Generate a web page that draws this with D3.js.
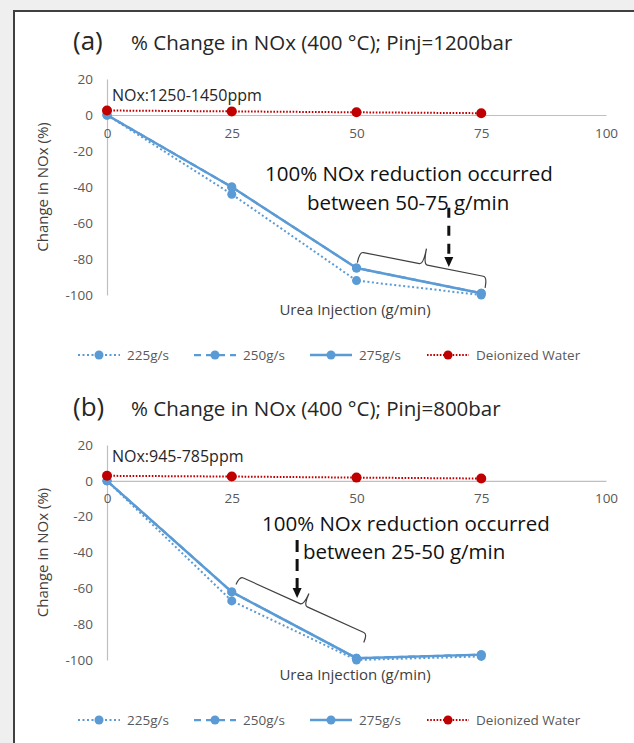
<!DOCTYPE html>
<html>
<head>
<meta charset="utf-8">
<script src="https://cdn.jsdelivr.net/npm/d3@7"></script>
<style>
  html, body { margin: 0; padding: 0; background: #efefef; }
  svg { display: block; font-family: "Open Sans", sans-serif; }
</style>
</head>
<body>
<svg id="chart" width="634" height="743"></svg>
<script>
// urea injection (g/min) and the ticks
const xValues = [0, 25, 50, 75];
const xTicks = [0, 25, 50, 75, 100];
const yTicks = [20, 0, -20, -40, -60, -80, -100];
const seriesNames = ["225g/s", "250g/s", "275g/s", "Deionized Water"];

// panel (a) Pinj=1200bar
const a225 = [0, -44, -92, -100];
const a250 = [0, -40, -85, -99];
const a275 = [0, -40, -85, -99];
const aWater = [2.5, 2, 1.5, 1];

// panel (b) Pinj=800bar
const b225 = [0, -67, -100, -98];
const b250 = [0, -62, -99, -97];
const b275 = [0, -62, -99, -97];
const bWater = [2.8, 2.4, 1.8, 1.3];

const blue = "#5b9bd5", red = "#c00000";
const styles = [
  {color: blue, width: 2, dash: "2,2.5"},
  {color: blue, width: 2.25, dash: "7,5"},
  {color: blue, width: 2.5, dash: null},
  {color: red, width: 2, dash: "1.6,1.6"}
];

const panels = [
  {
    label: "(a)", title: "% Change in NOx (400 °C); Pinj=1200bar", note: "NOx:1250-1450ppm",
    series: [a225, a250, a275, aWater],
    top: 79, bottom: 295, titleY: 50, noteY: 101, legendY: 355,
    text1: [265, 180.5, "100% NOx reduction occurred"],
    text2: [307, 209.5, "between 50-75 g/min"],
    brace: {p0: [50.6, -76], p1: [76.2, -90], h: 11, t: 16},
    arrow: {x: 68.5, y0: -51.5, y1: -84.4, dash: "10,8"}
  },
  {
    label: "(b)", title: "% Change in NOx (400 °C); Pinj=800bar", note: "NOx:945-785ppm",
    series: [b225, b250, b275, bWater],
    top: 445, bottom: 660, titleY: 416, noteY: 462, legendY: 720,
    text1: [262, 531, "100% NOx reduction occurred"],
    text2: [303, 559, "between 25-50 g/min"],
    brace: {p0: [26.6, -53.3], p1: [52.2, -85.6], h: 9, t: 13},
    arrow: {x: 38.1, y0: -33, y1: -65.4, dash: "12,7"}
  }
];

const svg = d3.select("#chart");

// card with dark border
svg.append("rect").attr("x", 14).attr("y", 11).attr("width", 700).attr("height", 800)
  .attr("fill", "#fff").attr("stroke", "#404040").attr("stroke-width", 2);

const x = d3.scaleLinear().domain([0, 100]).range([107, 606]);

panels.forEach(p => {
  const y = d3.scaleLinear().domain([-100, 20]).range([p.bottom, p.top]);
  const g = svg.append("g");

  g.append("text").attr("x", 73).attr("y", p.titleY).attr("font-size", 26).attr("fill", "#262626").text(p.label);
  g.append("text").attr("x", 131).attr("y", p.titleY).attr("font-size", 20.5).attr("fill", "#262626").text(p.title);

  // y axis (plain hyphen for negatives, like the original)
  const yAxis = g.append("g").attr("transform", `translate(${x(0)},0)`)
    .call(d3.axisLeft(y).tickValues(yTicks).tickSize(0).tickPadding(14).tickFormat(d => String(d)));
  yAxis.select(".domain").attr("stroke", "#bfbfbf").attr("stroke-width", 1.2);
  yAxis.selectAll("text").attr("font-size", 13.5).attr("fill", "#595959").attr("font-family", "Open Sans");

  // horizontal zero line with labels under it
  const xAxis = g.append("g").attr("transform", `translate(0,${y(0)})`)
    .call(d3.axisBottom(x).tickValues(xTicks).tickSize(0).tickPadding(13).tickFormat(d => String(d)));
  xAxis.select(".domain").attr("stroke", "#bfbfbf").attr("stroke-width", 1.2);
  xAxis.selectAll("text").attr("font-size", 13.5).attr("fill", "#595959").attr("font-family", "Open Sans");

  g.append("text").attr("transform", `translate(48,${(p.top + p.bottom) / 2}) rotate(-90)`)
    .attr("text-anchor", "middle").attr("font-size", 15).attr("fill", "#404040").text("Change in NOx (%)");
  g.append("text").attr("x", 355).attr("y", p.bottom + 20).attr("text-anchor", "middle")
    .attr("font-size", 15).attr("fill", "#404040").text("Urea Injection (g/min)");

  g.append("text").attr("x", 112).attr("y", p.noteY).attr("font-size", 16).attr("fill", "#262626").text(p.note);

  // series
  const line = d3.line().x((d, i) => x(xValues[i])).y(d => y(d));
  p.series.forEach((vals, k) => {
    const s = styles[k];
    g.append("path").datum(vals).attr("d", line).attr("fill", "none")
      .attr("stroke", s.color).attr("stroke-width", s.width).attr("stroke-dasharray", s.dash);
    g.selectAll(null).data(vals).enter().append("circle")
      .attr("cx", (d, i) => x(xValues[i])).attr("cy", d => y(d))
      .attr("r", k === 3 ? 5 : 4.5).attr("fill", s.color);
  });

  // annotation text
  [p.text1, p.text2].forEach(t => {
    g.append("text").attr("x", t[0]).attr("y", t[1]).attr("font-size", 20.5).attr("fill", "#111").text(t[2]);
  });

  // rotated curly brace
  const b0 = [x(p.brace.p0[0]), y(p.brace.p0[1])];
  const b1 = [x(p.brace.p1[0]), y(p.brace.p1[1])];
  const L = Math.hypot(b1[0] - b0[0], b1[1] - b0[1]);
  const ang = Math.atan2(b1[1] - b0[1], b1[0] - b0[0]) * 180 / Math.PI;
  const m = L / 2, h = p.brace.h, t = p.brace.t, r = 4;
  const bp = d3.path();
  bp.moveTo(0, h); bp.quadraticCurveTo(0, 0, r, 0); bp.lineTo(m - r, 0);
  bp.quadraticCurveTo(m, 0, m, -t); bp.quadraticCurveTo(m, 0, m + r, 0);
  bp.lineTo(L - r, 0); bp.quadraticCurveTo(L, 0, L, h);
  g.append("path").attr("d", bp.toString())
    .attr("transform", `translate(${b0[0]},${b0[1]}) rotate(${ang})`)
    .attr("fill", "none").attr("stroke", "#404040").attr("stroke-width", 1.2);

  // dashed arrow
  const ax = x(p.arrow.x), ay0 = y(p.arrow.y0), ay1 = y(p.arrow.y1);
  g.append("line").attr("x1", ax).attr("x2", ax).attr("y1", ay0).attr("y2", ay1 - 9)
    .attr("stroke", "#111").attr("stroke-width", 3).attr("stroke-dasharray", p.arrow.dash);
  g.append("path").attr("d", `M${ax - 4.5},${ay1 - 10} L${ax + 4.5},${ay1 - 10} L${ax},${ay1} Z`).attr("fill", "#111");

  // legend
  const legendX = [78, 194, 310, 427];
  seriesNames.forEach((name, k) => {
    const s = styles[k];
    const lx = legendX[k], ly = p.legendY;
    g.append("line").attr("x1", lx).attr("x2", lx + 42).attr("y1", ly).attr("y2", ly)
      .attr("stroke", s.color).attr("stroke-width", s.width).attr("stroke-dasharray", s.dash);
    g.append("circle").attr("cx", lx + 21).attr("cy", ly).attr("r", 4.5).attr("fill", s.color);
    g.append("text").attr("x", lx + 49).attr("y", ly + 5).attr("font-size", 13.5).attr("fill", "#595959").text(name);
  });
});
</script>
</body>
</html>
